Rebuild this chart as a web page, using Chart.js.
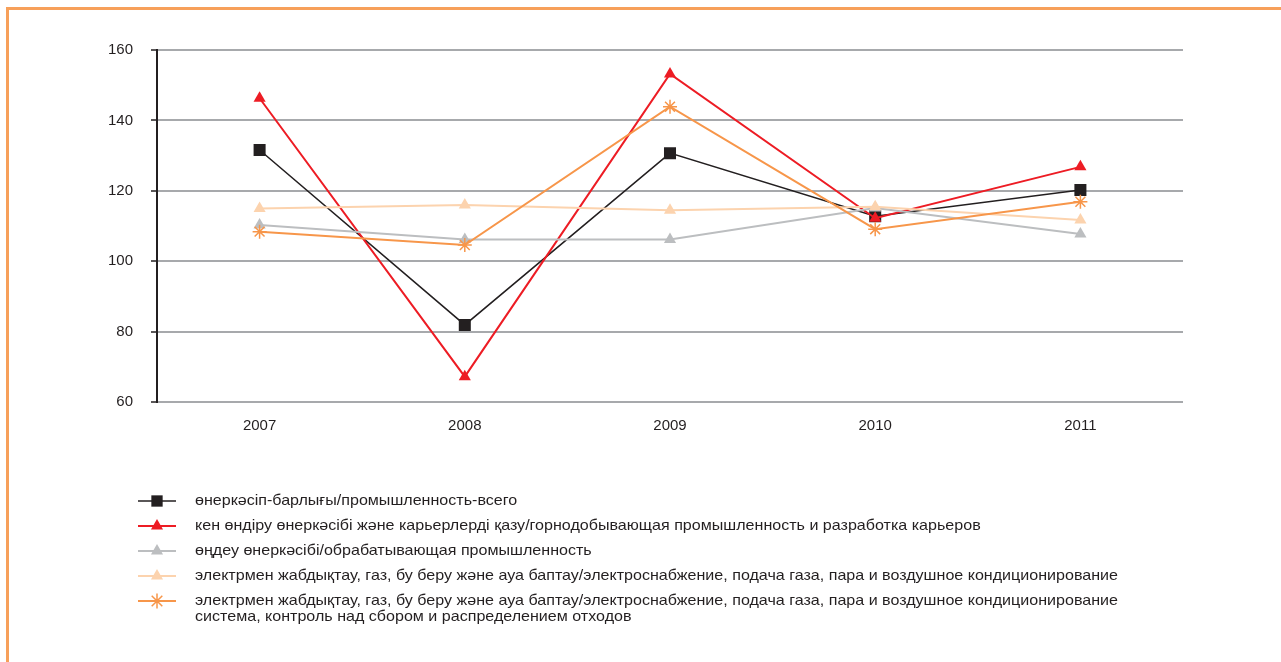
<!DOCTYPE html>
<html>
<head>
<meta charset="utf-8">
<script src="https://cdn.jsdelivr.net/npm/chart.js@4.4.1/dist/chart.umd.min.js"></script>
<style>
  html, body { margin: 0; padding: 0; background: #fff; }
  #wrap { position: relative; width: 1281px; height: 662px; overflow: hidden; }
  #frame { position: absolute; left: 6px; top: 7px; right: -10px; bottom: -10px;
           border-top: 3px solid #f7a05a; border-left: 3px solid #f7a05a; }
  canvas { position: absolute; left: 0; top: 0; }
</style>
</head>
<body>
<div id="wrap">
  <div id="frame"></div>
  <canvas id="c" width="1281" height="662"></canvas>
</div>
<script>
// years on the x axis
const years = ['2007', '2008', '2009', '2010', '2011'];

// index values, previous year = 100
const totalIndustry = [131.6, 81.9, 130.7, 112.8, 120.2];
const mining        = [146.3, 67.2, 153.2, 112.2, 126.8];
const manufacturing = [110.3, 106.2, 106.2, 115.1, 107.7];
const electricity   = [115.0, 116.0, 114.5, 115.5, 111.7];
const waterWaste    = [108.4, 104.6, 143.9, 109.1, 116.9];

const yTicks = [60, 80, 100, 120, 140, 160];

const seriesNames = [
  ['өнеркәсіп-барлығы/промышленность-всего'],
  ['кен өндіру өнеркәсібі және карьерлерді қазу/горнодобывающая промышленность и разработка карьеров'],
  ['өңдеу өнеркәсібі/обрабатывающая промышленность'],
  ['электрмен жабдықтау, газ, бу беру және ауа баптау/электроснабжение, подача газа, пара и воздушное кондиционирование'],
  ['электрмен жабдықтау, газ, бу беру және ауа баптау/электроснабжение, подача газа, пара и воздушное кондиционирование',
   'система, контроль над сбором и распределением отходов']
];

const FONT = '"Liberation Sans", Arial, Helvetica, sans-serif';
const TXT = '#231f20';

function ds(i, data, color, style, radius, width, legendRadius) {
  return {
    label: seriesNames[i].join(' '),
    data,
    borderColor: color, backgroundColor: color,
    borderWidth: width,
    pointStyle: style, pointRadius: radius, pointHoverRadius: radius,
    pointBackgroundColor: color, pointBorderColor: color,
    pointBorderWidth: style === 'star' ? 1.5 : 0,
    tension: 0, fill: false,
    order: 5 - i,
    _legendRadius: legendRadius
  };
}

// legend drawn under the plot: short line with the marker in the middle
const lineLegend = {
  id: 'lineLegend',
  afterDraw(chart) {
    const ctx = chart.ctx;
    ctx.save();
    chart.data.datasets.forEach((d, i) => {
      const y = 501 + i * 25;
      ctx.strokeStyle = d.borderColor;
      ctx.lineWidth = d.borderWidth;
      ctx.beginPath(); ctx.moveTo(138, y); ctx.lineTo(176, y); ctx.stroke();
      ctx.fillStyle = d.pointBackgroundColor;
      ctx.strokeStyle = d.pointBorderColor;
      ctx.lineWidth = d.pointStyle === 'star' ? 1.5 : 0.01;
      Chart.helpers.drawPoint(ctx, { pointStyle: d.pointStyle, radius: d._legendRadius, rotation: 0, borderWidth: ctx.lineWidth }, 157, y);
      // reference text is set a bit wide, so stretch it horizontally
      ctx.save();
      ctx.translate(195, 0);
      ctx.scale(1.108, 1);
      ctx.fillStyle = TXT;
      ctx.font = '14.5px ' + FONT;
      ctx.textBaseline = 'middle';
      seriesNames[i].forEach((ln, k) => ctx.fillText(ln, 0, y + k * 16));
      ctx.restore();
    });
    ctx.restore();
  }
};

new Chart(document.getElementById('c'), {
  type: 'line',
  data: {
    labels: years,
    datasets: [
      ds(0, totalIndustry, '#231f20', 'rect', 8.5, 1.5, 8),
      ds(1, mining, '#ed1c24', 'triangle', 7, 2, 7),
      ds(2, manufacturing, '#bcbec0', 'triangle', 7, 2, 7),
      ds(3, electricity, '#fcd3ae', 'triangle', 7, 2, 7),
      ds(4, waterWaste, '#f7964a', 'star', 7, 2, 7.5)
    ]
  },
  options: {
    responsive: false, animation: false,
    layout: { padding: { left: 0, right: 98, top: 50, bottom: 0 } },
    plugins: { legend: { display: false }, tooltip: { enabled: false } },
    scales: {
      x: {
        offset: true,
        grid: { display: false, drawTicks: false },
        border: { display: false },
        ticks: { color: TXT, font: { family: FONT, size: 15 }, padding: 15 },
        afterFit: s => { s.height = 260; }
      },
      y: {
        min: 60, max: 160,
        afterBuildTicks: s => { s.ticks = yTicks.map(v => ({ value: v })); },
        grid: { color: '#a7a9ac', lineWidth: 2, tickColor: TXT, tickLength: 6, tickWidth: 1.5 },
        border: { color: TXT, width: 2 },
        ticks: { color: TXT, font: { family: FONT, size: 15 }, padding: 18 },
        afterFit: s => { s.width = 157; }
      }
    }
  },
  plugins: [lineLegend]
});
</script>
</body>
</html>
